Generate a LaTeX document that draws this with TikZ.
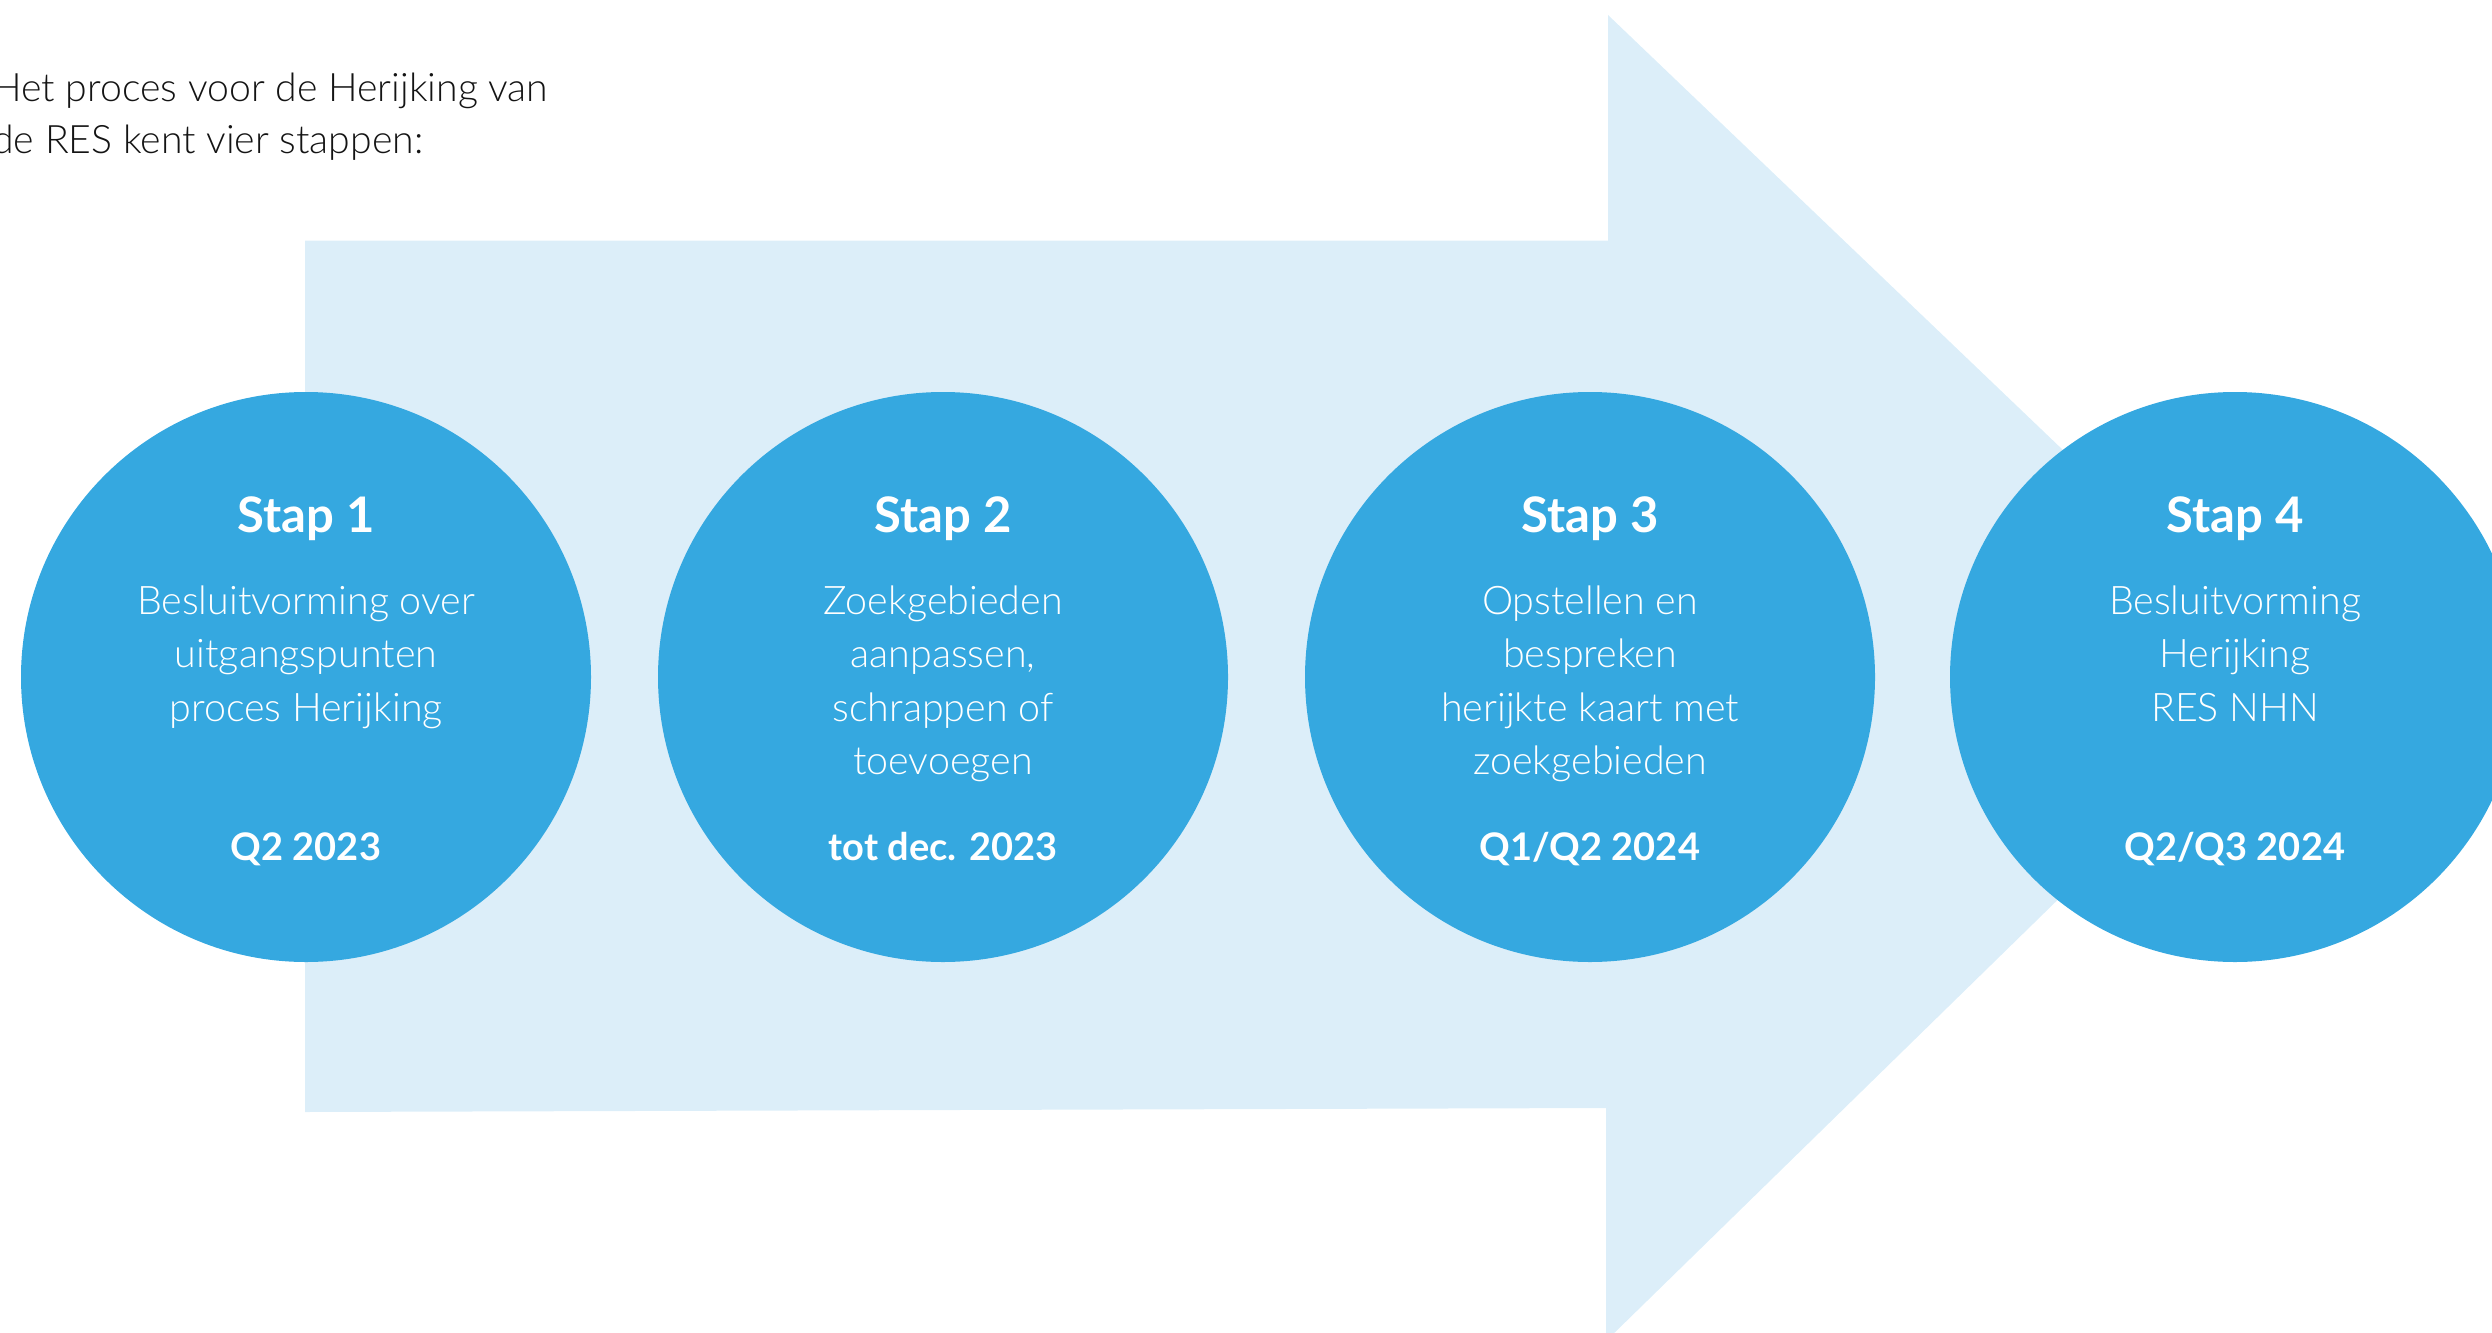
\documentclass[tikz,border=0pt]{standalone}
\usepackage{fontspec}
\IfFontExistsTF{Lato Light}{\newfontfamily\lightfont{Lato Light}}{\newfontfamily\lightfont{Lato}}
\newfontfamily\latofont{Lato}
\definecolor{circblue}{HTML}{35A8E0}
\definecolor{arrowlight}{HTML}{DCEEF9}
\definecolor{toptext}{HTML}{141414}
\newcommand\drawstep[5]{%
  \node[stepcircle] (#1) at (#2,677) {};
  \node[titletext] (#1t) at (#2,532) {#3};
  \foreach \ln [count=\i] in {#4} {\node[bodytext] (#1l\i) at ({#2},{614+53.5*(\i-1)}) {\ln};}
  \node[datetext] (#1d) at (#2,860) {#5};
}
\begin{document}
\begin{tikzpicture}[x=0.5pt,y=-0.5pt,
  stepcircle/.style={circle,fill=circblue,minimum size=285pt,inner sep=0pt},
  titletext/.style={text=white,font=\latofont\bfseries\fontsize{24.5}{30}\selectfont,anchor=base,inner sep=0pt},
  bodytext/.style={text=white,font=\lightfont\fontsize{19.7}{27}\selectfont,anchor=base,inner sep=0pt},
  datetext/.style={text=white,font=\latofont\bfseries\fontsize{19}{24}\selectfont,anchor=base,inner sep=0pt},
  introtext/.style={text=toptext,font=\lightfont\fontsize{19.6}{28}\selectfont,anchor=base west,inner sep=0pt}]
\useasboundingbox (0,0) rectangle (2492,1332);
\clip (0,0) rectangle (2492,1332);
\fill[arrowlight] (305,240.7) -- (1608,240.7) -- (1608,15) -- (2293,670) -- (1606,1341) -- (1606,1108) -- (305,1112) -- cycle;
\node[introtext] (intro1) at (-8,102) {Het proces voor de Herijking van};
\node[introtext] (intro2) at (-8,154) {de RES kent vier stappen:};
\drawstep{s1}{306}{Stap 1}{Besluitvorming over,uitgangspunten,proces Herijking}{Q2 2023}
\drawstep{s2}{943}{Stap 2}{Zoekgebieden,{aanpassen,},schrappen of,toevoegen}{tot dec. 2023}
\drawstep{s3}{1590}{Stap 3}{Opstellen en,bespreken,herijkte kaart met,zoekgebieden}{Q1/Q2 2024}
\drawstep{s4}{2235}{Stap 4}{Besluitvorming,Herijking,RES NHN}{Q2/Q3 2024}
\end{tikzpicture}
\end{document}
